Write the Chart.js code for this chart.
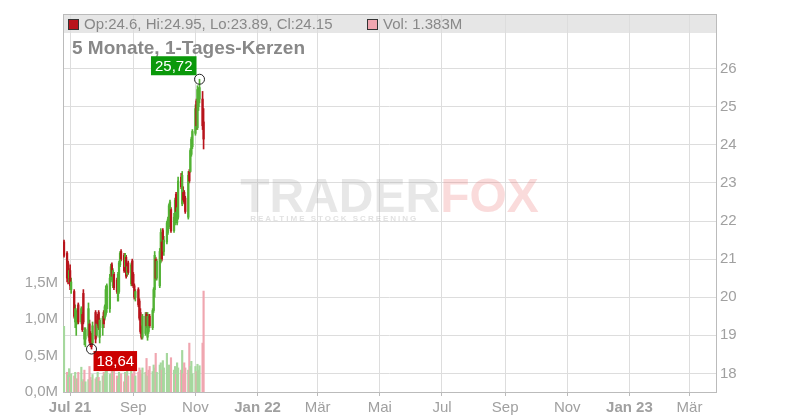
<!DOCTYPE html>
<html>
<head>
<meta charset="utf-8">
<script src="https://cdn.jsdelivr.net/npm/chart.js@4.4.1/dist/chart.umd.min.js"></script>
<style>
html, body { margin: 0; padding: 0; background: #fff; }
</style>
</head>
<body>
<canvas id="chart" width="800" height="420"></canvas>
<script>
// candles, 25.06.2021 - 09.11.2021, one per trading day
const firstDay = '2021-06-25';
const lastDay = '2021-11-09';

const open = [21.45, 21.15, 20.90, 20.50, 20.70, 20.20, 20.15, 19.35, 19.30, 19.50,
    19.80, 19.35, 19.55, 20.10, 18.90, 18.90, 19.00, 19.30, 19.05, 18.95,
    18.80, 19.60, 19.00, 19.50, 19.60, 18.95, 19.20, 19.60, 19.45, 19.55,
    19.70, 19.70, 20.45, 20.85, 20.30, 20.60, 20.45, 19.90, 20.15, 20.85,
    21.20, 21.10, 20.80, 21.05, 20.60, 20.90, 20.35, 20.95, 20.60, 20.30,
    20.00, 20.20, 19.90, 19.60, 19.20, 18.95, 19.05, 19.55, 18.95, 19.10,
    19.50, 19.20, 19.65, 20.20, 21.00, 20.50, 20.30, 20.95, 21.45, 21.75,
    21.20, 21.45, 21.70, 21.85, 22.10, 22.30, 21.75, 21.95, 22.70, 21.95,
    22.10, 23.15, 22.45, 22.75, 22.75, 22.60, 22.10, 23.30, 23.30, 23.75,
    23.95, 24.30, 25.15, 24.45, 25.00, 25.20, 25.20, 24.60];
const high = [21.50, 21.20, 20.95, 20.75, 20.85, 20.50, 20.20, 19.80, 19.65, 19.70,
    19.85, 19.75, 19.60, 20.20, 19.20, 19.20, 19.85, 19.40, 19.10, 19.05,
    19.35, 19.65, 19.40, 19.55, 19.65, 19.45, 19.50, 19.65, 19.80, 20.30,
    20.35, 20.60, 20.87, 20.90, 20.75, 20.65, 20.50, 20.65, 20.95, 21.20,
    21.25, 21.15, 21.15, 21.10, 20.85, 20.95, 20.90, 21.00, 20.65, 20.35,
    20.20, 20.25, 19.96, 19.70, 19.25, 19.55, 19.60, 19.60, 19.60, 19.55,
    19.55, 19.70, 20.25, 21.20, 21.05, 21.00, 21.28, 21.80, 21.50, 21.80,
    21.60, 22.00, 22.10, 22.45, 22.55, 22.35, 22.20, 22.60, 22.75, 22.40,
    23.15, 23.25, 23.30, 22.90, 22.80, 22.65, 23.30, 23.35, 23.90, 24.20,
    24.40, 25.05, 25.20, 25.55, 25.50, 25.72, 25.40, 24.95];
const low = [21.05, 20.40, 20.35, 20.40, 20.20, 20.10, 19.45, 19.20, 19.00, 19.30,
    19.30, 19.30, 19.10, 19.30, 18.75, 18.70, 18.95, 18.80, 18.70, 18.64,
    18.75, 18.80, 18.95, 19.25, 19.15, 18.80, 19.00, 19.20, 19.40, 19.50,
    19.60, 19.60, 20.40, 20.50, 20.25, 20.20, 20.10, 19.90, 20.10, 20.80,
    20.95, 20.65, 20.75, 20.50, 20.55, 20.60, 20.30, 20.30, 20.25, 19.95,
    19.90, 19.75, 19.40, 19.05, 18.90, 18.90, 19.00, 19.20, 18.87, 19.05,
    19.20, 19.15, 19.60, 20.00, 20.45, 20.45, 20.25, 20.90, 20.95, 21.15,
    21.10, 21.40, 21.65, 21.80, 22.00, 21.70, 21.70, 21.90, 22.20, 21.90,
    22.05, 22.85, 22.40, 22.50, 22.45, 22.20, 22.05, 23.00, 23.28, 23.70,
    23.90, 24.25, 24.40, 24.40, 24.90, 25.10, 24.40, 23.89];
const close = [21.10, 20.50, 20.50, 20.70, 20.30, 20.40, 19.50, 19.70, 19.55, 19.60,
    19.35, 19.70, 19.15, 19.35, 19.10, 19.15, 19.70, 18.85, 18.75, 18.70,
    19.25, 18.90, 19.30, 19.30, 19.20, 19.40, 19.45, 19.30, 19.75, 20.20,
    20.30, 20.50, 20.80, 20.55, 20.70, 20.25, 20.15, 20.60, 20.90, 21.15,
    21.00, 20.70, 21.10, 20.55, 20.80, 20.65, 20.85, 20.35, 20.30, 20.00,
    20.15, 19.80, 19.45, 19.10, 18.95, 19.50, 19.50, 19.25, 19.50, 19.45,
    19.25, 19.65, 20.20, 21.10, 20.50, 20.95, 21.20, 21.70, 21.00, 21.20,
    21.50, 21.95, 22.05, 22.40, 22.50, 21.75, 22.10, 22.55, 22.25, 22.35,
    23.05, 22.90, 23.20, 22.55, 22.50, 22.25, 23.20, 23.05, 23.85, 24.15,
    24.35, 24.95, 24.50, 25.45, 25.45, 25.50, 24.50, 24.15];
// volume in millions
const volume = [0.90, 0.27, 0.23, 0.32, 0.20,
    0.25, 0.22, 0.27, 0.18, 0.18, 0.27, 0.34, 0.14, 0.17, 0.30, 0.14,
    0.17, 0.35, 0.20, 0.16, 0.24, 0.18, 0.20, 0.27, 0.20, 0.15, 0.22,
    0.27, 0.25, 0.30, 0.35, 0.24, 0.25, 0.34, 0.30, 0.32, 0.22, 0.18,
    0.27, 0.16, 0.25, 0.14, 0.27, 0.25, 0.33, 0.22, 0.30, 0.25, 0.22,
    0.30, 0.22, 0.27, 0.33, 0.30, 0.25, 0.33, 0.27, 0.46, 0.22, 0.30,
    0.35, 0.28, 0.37, 0.33, 0.53, 0.27, 0.37, 0.40, 0.30, 0.43, 0.33,
    0.53, 0.30, 0.37, 0.25, 0.47, 0.30, 0.35, 0.24, 0.40, 0.33, 0.30,
    0.57, 0.25, 0.40, 0.33, 0.30, 0.67, 0.35, 0.42, 0.25, 0.35, 0.28,
    0.38, 0.30, 0.36, 0.67, 1.383];

const monthDates = ['2021-07-01', '2021-09-01', '2021-11-01', '2022-01-01', '2022-03-01', '2022-05-01',
    '2022-07-01', '2022-09-01', '2022-11-01', '2023-01-01', '2023-03-01'];
const monthLabels = ['Jul 21', 'Sep', 'Nov', 'Jan 22', 'Mär', 'Mai', 'Jul', 'Sep', 'Nov', 'Jan 23', 'Mär'];
const priceTicks = [18, 19, 20, 21, 22, 23, 24, 25, 26];
const volTicks = [0, 0.5, 1.0, 1.5];

const FONT = '"Liberation Sans", Arial, sans-serif';
const GREEN = '#52b234';
const RED = '#b8141c';
const VOL_GREEN = '#a6d89e';
const VOL_RED = '#f0a6b0';

function dayNum(s) {
    let p = s.split('-');
    return Math.round((Date.UTC(+p[0], p[1] - 1, +p[2]) - Date.UTC(2021, 6, 1)) / 86400000);
}

// trading days (weekdays) between first and last day
let days = [];
for (let d = dayNum(firstDay); d <= dayNum(lastDay); d++) {
    let wd = new Date(Date.UTC(2021, 6, 1 + d)).getUTCDay();
    if (wd !== 0 && wd !== 6) days.push(d);
}
const monthDays = monthDates.map(dayNum);

let wicks = [], bodies = [], vols = [], candleColors = [], volColors = [];
for (let i = 0; i < days.length; i++) {
    wicks.push({ x: days[i], y: [low[i], high[i]] });
    bodies.push({ x: days[i], y: [open[i], close[i]] });
    vols.push({ x: days[i], y: volume[i] });
    candleColors.push(close[i] >= open[i] ? GREEN : RED);
    let up = i === 0 ? true : close[i] >= close[i - 1];
    volColors.push(up ? VOL_GREEN : VOL_RED);
}

function fmt(v) { return v.toFixed(2).replace('.', ','); }

const overlay = {
    id: 'overlay',
    beforeDraw(chart) {
        const { ctx, chartArea: a } = chart;
        ctx.save();
        ctx.fillStyle = '#e6e6e6';
        ctx.fillRect(a.left, a.top, a.right - a.left, 19);
        ctx.restore();
    },
    beforeDatasetsDraw(chart) {
        const { ctx, chartArea: a } = chart;
        let cx = (a.left + a.right) / 2;
        ctx.save();
        ctx.font = 'bold 48px ' + FONT;
        let w1 = ctx.measureText('TRADER').width;
        let w2 = ctx.measureText('FOX').width;
        let x0 = cx - (w1 + w2) / 2;
        ctx.textBaseline = 'alphabetic';
        ctx.fillStyle = 'rgba(170,170,170,0.28)';
        ctx.fillText('TRADER', x0, 212);
        ctx.fillStyle = 'rgba(235,110,110,0.25)';
        ctx.fillText('FOX', x0 + w1, 212);
        ctx.font = 'bold 8px ' + FONT;
        ctx.letterSpacing = '2px';
        ctx.fillStyle = 'rgba(170,170,170,0.35)';
        ctx.fillText('REALTIME STOCK SCREENING', x0 + 10, 221);
        ctx.restore();
    },
    afterDatasetsDraw(chart) {
        const { ctx, chartArea: a, scales } = chart;
        const n = days.length - 1;
        ctx.save();
        // top border
        ctx.strokeStyle = '#bbbbbb';
        ctx.lineWidth = 1;
        ctx.beginPath();
        ctx.moveTo(a.left, a.top + 0.5);
        ctx.lineTo(a.right, a.top + 0.5);
        ctx.stroke();

        // legend line
        ctx.font = '15px ' + FONT;
        ctx.textBaseline = 'alphabetic';
        ctx.fillStyle = RED;
        ctx.fillRect(a.left + 5.5, a.top + 5.5, 10, 10);
        ctx.strokeStyle = '#333';
        ctx.strokeRect(a.left + 5.5, a.top + 5.5, 10, 10);
        ctx.fillStyle = '#888';
        let txt = 'Op:' + open[n] + ', Hi:' + high[n] + ', Lo:' + low[n] + ', Cl:' + close[n];
        ctx.fillText(txt, a.left + 21, a.top + 15);
        ctx.fillStyle = VOL_RED;
        ctx.fillRect(367.5, a.top + 5.5, 10, 10);
        ctx.strokeRect(367.5, a.top + 5.5, 10, 10);
        ctx.fillStyle = '#888';
        ctx.fillText('Vol: ' + volume[n].toFixed(3) + 'M', 383, a.top + 15);

        // title
        ctx.font = 'bold 19px ' + FONT;
        ctx.fillStyle = '#888';
        ctx.fillText('5 Monate, 1-Tages-Kerzen', a.left + 9, 54);

        // max / min markers
        let iMax = 0, iMin = 0;
        for (let i = 0; i < days.length; i++) {
            if (high[i] > high[iMax]) iMax = i;
            if (low[i] < low[iMin]) iMin = i;
        }
        ctx.font = '15px ' + FONT;
        let mx = scales.x.getPixelForValue(days[iMax]);
        let my = scales.y.getPixelForValue(high[iMax]);
        let t = fmt(high[iMax]);
        let tw = ctx.measureText(t).width + 8;
        ctx.fillStyle = '#0a990a';
        ctx.fillRect(mx - 3 - tw, my - 23, tw, 19);
        ctx.fillStyle = '#fff';
        ctx.fillText(t, mx - 3 - tw + 4, my - 8);

        let lx = scales.x.getPixelForValue(days[iMin]);
        let ly = scales.y.getPixelForValue(low[iMin]);
        t = fmt(low[iMin]);
        tw = ctx.measureText(t).width + 6;
        ctx.fillStyle = '#cc0000';
        ctx.fillRect(lx + 2, ly + 2, tw, 20);
        ctx.fillStyle = '#fff';
        ctx.fillText(t, lx + 5, ly + 17);

        ctx.strokeStyle = '#222';
        ctx.beginPath();
        ctx.arc(mx, my, 5, 0, Math.PI * 2);
        ctx.stroke();
        ctx.beginPath();
        ctx.arc(lx, ly, 5, 0, Math.PI * 2);
        ctx.stroke();
        ctx.restore();
    }
};

const ctx = document.getElementById('chart').getContext('2d');
new Chart(ctx, {
    type: 'bar',
    data: {
        datasets: [
            { data: bodies, yAxisID: 'y', backgroundColor: candleColors, barThickness: 1.6, order: 1 },
            { data: wicks, yAxisID: 'y', backgroundColor: candleColors, barThickness: 1, order: 2 },
            { data: vols, yAxisID: 'yv', backgroundColor: volColors, barThickness: 1.5, order: 3 }
        ]
    },
    options: {
        responsive: false,
        animation: false,
        layout: { padding: { top: 11, left: 0, right: 0, bottom: 0 } },
        datasets: { bar: { grouped: false, borderWidth: 0 } },
        plugins: { legend: { display: false }, tooltip: { enabled: false } },
        scales: {
            x: {
                type: 'linear',
                min: -7,
                max: 634,
                offset: false,
                grid: { color: '#dddddd', offset: false, tickLength: 4, tickColor: '#bbbbbb' },
                border: { color: '#bbbbbb' },
                afterBuildTicks: s => { s.ticks = monthDays.map(v => ({ value: v })); },
                ticks: {
                    autoSkip: false,
                    maxRotation: 0,
                    padding: 3,
                    color: '#a0a0a0',
                    font: c => ({ family: FONT, size: 15, weight: /\d/.test(monthLabels[c.index] || '') ? 'bold' : 'normal' }),
                    callback: (v, i) => monthLabels[i]
                },
                afterFit: s => { s.height = 28; }
            },
            yv: {
                position: 'left',
                min: 0,
                max: 5.18,
                grid: { display: false, drawTicks: false },
                border: { color: '#bbbbbb' },
                afterBuildTicks: s => { s.ticks = volTicks.map(v => ({ value: v })); },
                ticks: {
                    padding: 5,
                    color: '#a0a0a0',
                    font: { family: FONT, size: 15 },
                    callback: v => v.toFixed(1).replace('.', ',') + 'M'
                },
                afterFit: s => { s.width = 63; }
            },
            y: {
                position: 'right',
                min: 17.513,
                max: 27.432,
                grid: { color: '#dddddd', drawTicks: false },
                border: { color: '#bbbbbb' },
                afterBuildTicks: s => { s.ticks = priceTicks.map(v => ({ value: v })); },
                ticks: {
                    padding: 4,
                    color: '#a0a0a0',
                    font: { family: FONT, size: 15 }
                },
                afterFit: s => { s.width = 84; }
            }
        }
    },
    plugins: [overlay]
});
</script>
</body>
</html>
